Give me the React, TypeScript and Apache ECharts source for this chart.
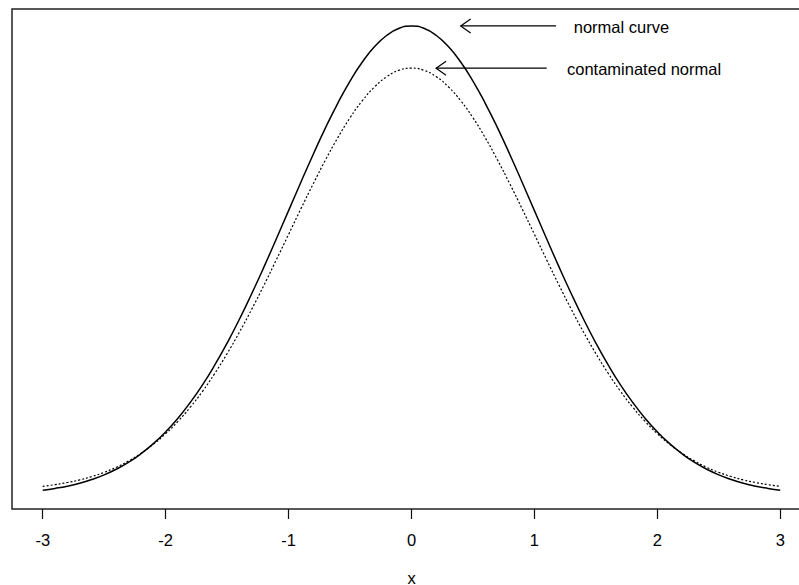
import React, { useEffect, useRef } from "react";
import * as echarts from "echarts";

const xValues = [
  -3.0, -2.9, -2.8, -2.7, -2.6, -2.5, -2.4, -2.3, -2.2, -2.1, -2.0, -1.9, -1.8, -1.7, -1.6, -1.5,
  -1.4, -1.3, -1.2, -1.1, -1.0, -0.9, -0.8, -0.7, -0.6, -0.5, -0.4, -0.3, -0.2, -0.1, 0.0,
  0.1, 0.2, 0.3, 0.4, 0.5, 0.6, 0.7, 0.8, 0.9, 1.0, 1.1, 1.2, 1.3, 1.4, 1.5, 1.6, 1.7, 1.8, 1.9,
  2.0, 2.1, 2.2, 2.3, 2.4, 2.5, 2.6, 2.7, 2.8, 2.9, 3.0,
];

const normalCurve = [
  0.0044, 0.006, 0.0079, 0.0104, 0.0136, 0.0175, 0.0224, 0.0283, 0.0355, 0.044, 0.054, 0.0656,
  0.079, 0.094, 0.1109, 0.1295, 0.1497, 0.1714, 0.1942, 0.2179, 0.242, 0.2661, 0.2897, 0.3123,
  0.3332, 0.3521, 0.3683, 0.3814, 0.391, 0.397, 0.3989, 0.397, 0.391, 0.3814, 0.3683, 0.3521,
  0.3332, 0.3123, 0.2897, 0.2661, 0.242, 0.2179, 0.1942, 0.1714, 0.1497, 0.1295, 0.1109, 0.094,
  0.079, 0.0656, 0.054, 0.044, 0.0355, 0.0283, 0.0224, 0.0175, 0.0136, 0.0104, 0.0079, 0.006,
  0.0044,
];

const contaminatedNormal = [
  0.0078, 0.0092, 0.011, 0.0132, 0.0161, 0.0196, 0.024, 0.0294, 0.0359, 0.0435, 0.0525, 0.063,
  0.075, 0.0885, 0.1038, 0.1205, 0.1387, 0.1582, 0.1787, 0.2001, 0.2218, 0.2435, 0.2647, 0.285,
  0.3039, 0.3209, 0.3354, 0.3472, 0.3559, 0.3613, 0.363, 0.3613, 0.3559, 0.3472, 0.3354, 0.3209,
  0.3039, 0.285, 0.2647, 0.2435, 0.2218, 0.2001, 0.1787, 0.1582, 0.1387, 0.1205, 0.1038, 0.0885,
  0.075, 0.063, 0.0525, 0.0435, 0.0359, 0.0294, 0.024, 0.0196, 0.0161, 0.0132, 0.011, 0.0092,
  0.0078,
];

const xTicks = [-3, -2, -1, 0, 1, 2, 3];

const annotations = [
  { label: "normal curve", tip: [0.4, 0.3989], lineEnd: 1.176, textX: 1.32 },
  { label: "contaminated normal", tip: [0.2, 0.363], lineEnd: 1.1, textX: 1.265 },
];

const FONT = '"Liberation Sans", Arial, Helvetica, sans-serif';

export default function App() {
  const ref = useRef<HTMLDivElement>(null);

  useEffect(() => {
    if (!ref.current) return;
    const chart = echarts.init(ref.current, null, { renderer: "svg" });
    chart.setOption({
      animation: false,
      backgroundColor: "#ffffff",
      grid: {
        left: 12,
        top: 9,
        right: -12,
        bottom: 76,
        outerBoundsMode: "none",
        containLabel: false,
        show: true,
        borderColor: "#222",
        borderWidth: 1.5,
        backgroundColor: "transparent",
      },
      xAxis: {
        type: "value",
        min: -3.25,
        max: 3.25,
        axisLine: { show: false, onZero: false },
        axisTick: {
          show: true,
          inside: false,
          customValues: xTicks,
          length: 10,
          lineStyle: { color: "#111", width: 1.2 },
        },
        axisLabel: {
          customValues: xTicks,
          fontSize: 16.5,
          color: "#000",
          margin: 22,
          fontFamily: FONT,
        },
        splitLine: { show: false },
        name: "x",
        nameLocation: "middle",
        nameGap: 60,
        nameTextStyle: { fontSize: 16.5, color: "#000", fontFamily: FONT },
      },
      yAxis: {
        type: "value",
        min: -0.0115,
        max: 0.4133,
        show: false,
        splitLine: { show: false },
      },
      series: [
        {
          name: "normal curve",
          type: "line",
          data: xValues.map((x, i) => [x, normalCurve[i]]),
          smooth: true,
          showSymbol: false,
          lineStyle: { color: "#000", width: 1.5, type: "solid" },
        },
        {
          name: "contaminated normal",
          type: "line",
          data: xValues.map((x, i) => [x, contaminatedNormal[i]]),
          smooth: true,
          showSymbol: false,
          lineStyle: { color: "#000", width: 1.2, type: [2, 2] },
        },
      ],
    });

    const graphics: any[] = [];
    annotations.forEach((a) => {
      const tip = chart.convertToPixel({ gridIndex: 0 }, a.tip) as number[];
      const end = chart.convertToPixel({ gridIndex: 0 }, [a.lineEnd, a.tip[1]]) as number[];
      const txt = chart.convertToPixel({ gridIndex: 0 }, [a.textX, a.tip[1]]) as number[];
      graphics.push({
        type: "line",
        shape: { x1: tip[0], y1: tip[1], x2: end[0], y2: end[1] },
        style: { stroke: "#000", lineWidth: 1.2 },
      });
      graphics.push({
        type: "polyline",
        shape: {
          points: [
            [tip[0] + 10, tip[1] - 7],
            [tip[0], tip[1]],
            [tip[0] + 10, tip[1] + 7],
          ],
        },
        style: { stroke: "#000", lineWidth: 1.2, fill: "none" },
      });
      graphics.push({
        type: "text",
        x: txt[0],
        y: txt[1] + 1,
        style: {
          text: a.label,
          fill: "#000",
          font: `16.5px ${FONT}`,
          verticalAlign: "middle",
          align: "left",
        },
      });
    });
    chart.setOption({ graphic: graphics });

    return () => chart.dispose();
  }, []);

  return (
    <div
      ref={ref}
      style={{ position: "fixed", left: 0, top: 0, width: 799, height: 585, background: "#fff" }}
    />
  );
}
